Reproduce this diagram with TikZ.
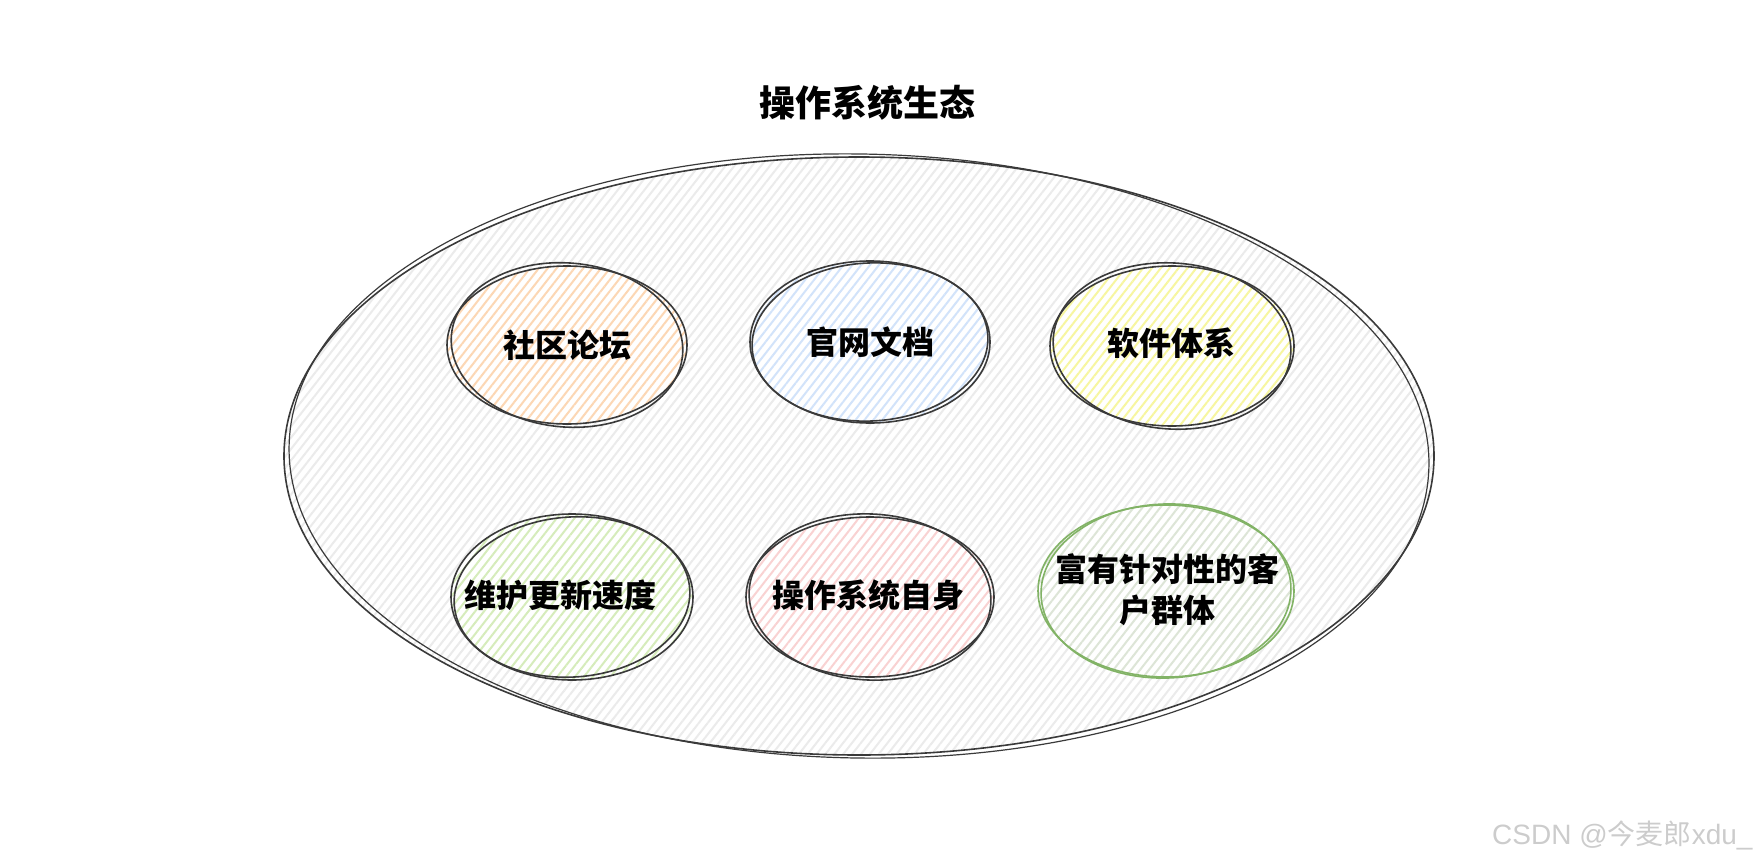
\documentclass[tikz,border=0pt]{standalone}
\usepackage{fontspec}
\setmainfont{Noto Sans CJK SC}
\newfontfamily\markfont{Liberation Sans}
\usetikzlibrary{shapes.geometric,patterns.meta}

\definecolor{inkgray}{HTML}{3A3A3A}
\definecolor{hatchgray}{HTML}{EBEBEB}
\definecolor{hatchorange}{HTML}{FCD7B4}
\definecolor{hatchblue}{HTML}{D2E3FA}
\definecolor{hatchyellow}{HTML}{F7F6A0}
\definecolor{hatchgreen}{HTML}{D6ECBB}
\definecolor{hatchred}{HTML}{F9D2D2}
\definecolor{hatchsage}{HTML}{DDE5D7}
\definecolor{rimgreen}{HTML}{82B366}

\begin{document}
\begin{tikzpicture}[x=1pt,y=-1pt,
    sketch/.style={draw=inkgray, line width=1.6pt},
    hatch/.style={preaction={fill=white},
        pattern={Lines[angle=52,distance=7pt,line width=2pt]},
        pattern color=#1},
    bubble/.style={ellipse, sketch, hatch=#1, inner sep=0pt},
    labeltext/.style={align=center, font=\bfseries\fontsize{32}{40}\selectfont}]

    \useasboundingbox (0,0) rectangle (1760,867);

    \node[ellipse, sketch, hatch=hatchgray,
        minimum width=1150, minimum height=598] (eco) at (859,456) {};
    \draw[sketch, line width=1.2pt] (eco.center)
        ellipse[x radius=570, y radius=302, rotate=-1];

    \node[font=\bfseries\fontsize{36}{44}\selectfont]
        (title) at (867,103) {操作系统生态};

    \node[bubble=hatchorange, minimum width=240, minimum height=158]
        (forum) at (567,345) {};
    \draw[sketch] (forum.center) ellipse[x radius=116, y radius=82, rotate=-5];
    \node[labeltext] (forumtxt) at (forum.center) {社区论坛};

    \node[bubble=hatchblue, minimum width=240, minimum height=162]
        (docs) at (870,342) {};
    \draw[sketch] (docs.center) ellipse[x radius=118, y radius=79, rotate=3];
    \node[labeltext] (docstxt) at (docs.center) {官网文档};

    \node[bubble=hatchyellow, minimum width=244, minimum height=160]
        (soft) at (1172,346) {};
    \draw[sketch] (soft.center) ellipse[x radius=119, y radius=83, rotate=-4];
    \node[labeltext] (softtxt) at (1171,343) {软件体系};

    \node[bubble=hatchgreen, minimum width=242, minimum height=166]
        (update) at (572,597) {};
    \draw[sketch] (update.center) ellipse[x radius=118, y radius=80, rotate=4];
    \node[labeltext] (updatetxt) at (560,595) {维护更新速度};

    \node[bubble=hatchred, minimum width=248, minimum height=160]
        (self) at (870,597) {};
    \draw[sketch] (self.center) ellipse[x radius=121, y radius=83, rotate=-3];
    \node[labeltext] (selftxt) at (868,595) {操作系统自身};

    \node[bubble=hatchsage, draw=rimgreen, minimum width=256, minimum height=172]
        (users) at (1166,591) {};
    \draw[sketch, draw=rimgreen] (users.center)
        ellipse[x radius=125, y radius=87, rotate=2];
    \node[labeltext, font=\bfseries\fontsize{32}{41}\selectfont]
        (userstxt) at (1167,590) {富有针对性的客\\户群体};

    \node[anchor=east, text=gray!40, font=\fontsize{28}{34}\selectfont]
        (mark) at (1756,835) {{\markfont CSDN @}今麦郎{\markfont xdu\_}};

\end{tikzpicture}
\end{document}
